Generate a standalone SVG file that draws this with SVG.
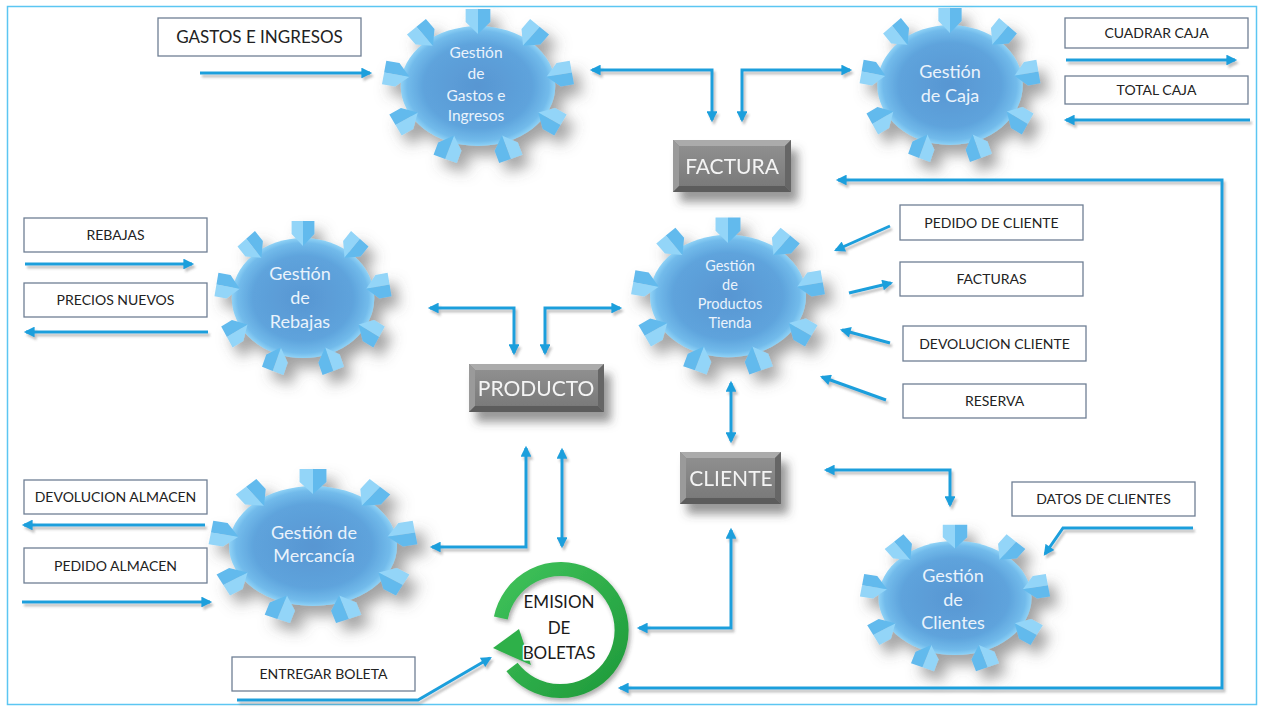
<svg xmlns="http://www.w3.org/2000/svg" xmlns:xlink="http://www.w3.org/1999/xlink" width="1264" height="711" viewBox="0 0 1264 711">
  <style>
    .lbl rect { fill: #ffffff; stroke: #6f7f94; stroke-width: 1.3; }
    .lbl text { font-family: Lato, "Liberation Sans", sans-serif; font-size: 14px; fill: #222222; text-anchor: middle; }
    .lbl text.big { font-size: 17px; }
    .gtxt { font-family: Lato, "Open Sans", sans-serif; fill: #eaf3fc; text-anchor: middle; }
    .btxt { font-family: Lato, "Open Sans", sans-serif; font-size: 21px; fill: #f4f4f4; text-anchor: middle; }
    .conn path { fill: none; stroke: #1e9fdc; stroke-width: 3; }
    .bol { font-family: Lato, "Open Sans", sans-serif; font-size: 17px; fill: #1a1a1a; text-anchor: middle; stroke: #ffffff; stroke-width: 3; paint-order: stroke; stroke-linejoin: round; }
  </style>
  <defs>
    <radialGradient id="gearBody" cx="50%" cy="50%" r="50%">
      <stop offset="0" stop-color="#5896d2"/>
      <stop offset="0.7" stop-color="#5ea3dc"/>
      <stop offset="0.92" stop-color="#72bbeb"/>
      <stop offset="1" stop-color="#8fd2f6"/>
    </radialGradient>
    <linearGradient id="grayFace" x1="0" y1="0" x2="0" y2="1">
      <stop offset="0" stop-color="#8f8f8f"/>
      <stop offset="1" stop-color="#7a7a7a"/>
    </linearGradient>
    <filter id="gearShadow" x="-30%" y="-30%" width="170%" height="170%">
      <feGaussianBlur in="SourceAlpha" stdDeviation="7"/>
      <feOffset dx="8" dy="10" result="b"/>
      <feFlood flood-color="#555555" flood-opacity="0.55"/>
      <feComposite in2="b" operator="in"/>
      <feMerge><feMergeNode/><feMergeNode in="SourceGraphic"/></feMerge>
    </filter>
    <filter id="boxShadow" x="-30%" y="-40%" width="170%" height="200%">
      <feGaussianBlur in="SourceAlpha" stdDeviation="5"/>
      <feOffset dx="7" dy="10" result="b"/>
      <feFlood flood-color="#444444" flood-opacity="0.55"/>
      <feComposite in2="b" operator="in"/>
      <feMerge><feMergeNode/><feMergeNode in="SourceGraphic"/></feMerge>
    </filter>
    <filter id="lineShadow" x="-5%" y="-5%" width="110%" height="110%">
      <feGaussianBlur in="SourceAlpha" stdDeviation="1.2"/>
      <feOffset dx="1.5" dy="2.5" result="b"/>
      <feFlood flood-color="#555555" flood-opacity="0.35"/>
      <feComposite in2="b" operator="in"/>
      <feMerge><feMergeNode/><feMergeNode in="SourceGraphic"/></feMerge>
    </filter>
    <filter id="ringShadow" x="-30%" y="-30%" width="160%" height="160%">
      <feGaussianBlur in="SourceAlpha" stdDeviation="2"/>
      <feOffset dx="2" dy="3" result="b"/>
      <feFlood flood-color="#333333" flood-opacity="0.4"/>
      <feComposite in2="b" operator="in"/>
      <feMerge><feMergeNode/><feMergeNode in="SourceGraphic"/></feMerge>
    </filter>
    <linearGradient id="ringGrad" x1="0" y1="0" x2="1" y2="1">
      <stop offset="0" stop-color="#3fc25a"/>
      <stop offset="1" stop-color="#1f9a3a"/>
    </linearGradient>
    <marker id="ah" viewBox="0 0 10 10" refX="8" refY="5" markerWidth="4" markerHeight="3.6" orient="auto-start-reverse" markerUnits="strokeWidth">
      <path d="M0,0 L10,5 L0,10 z" fill="#1e9fdc"/>
    </marker>
    <!-- one tooth, outward direction is -y, origin on the body rim -->
    <g id="tooth">
      <polygon points="-12,-18 0,-18 0,7 -12,-5" fill="#93d5f8"/>
      <polygon points="0,-18 12,-18 12,-5 0,7" fill="#62baed"/>
    </g>
    <!-- gear: elliptic body with nine teeth -->
    <g id="gear">
      <ellipse cx="0" cy="0" rx="75" ry="60" fill="url(#gearBody)"/>
      <use xlink:href="#tooth" transform="translate(0,-59) rotate(0)"/>
      <use xlink:href="#tooth" transform="translate(48.2,-45.5) rotate(40)"/>
      <use xlink:href="#tooth" transform="translate(73.4,-10.4) rotate(80)"/>
      <use xlink:href="#tooth" transform="translate(64.5,30) rotate(120)"/>
      <use xlink:href="#tooth" transform="translate(25.7,56) rotate(160)"/>
      <use xlink:href="#tooth" transform="translate(-25.7,56) rotate(200)"/>
      <use xlink:href="#tooth" transform="translate(-64.5,30) rotate(240)"/>
      <use xlink:href="#tooth" transform="translate(-73.4,-10.4) rotate(280)"/>
      <use xlink:href="#tooth" transform="translate(-48.2,-45.5) rotate(320)"/>
    </g>
  </defs>

  <rect x="0" y="0" width="1264" height="711" fill="#ffffff"/>
  <rect x="7.5" y="6.5" width="1249" height="698" fill="none" stroke="#5cc6f2" stroke-width="1.5"/>

  <!-- process gears -->
  <g id="gear-gastos">
    <use xlink:href="#gear" transform="translate(478,86) scale(1.03,1)" filter="url(#gearShadow)"/>
    <text class="gtxt" font-size="15.5"><tspan x="476" y="58">Gestión</tspan><tspan x="476" y="79">de</tspan><tspan x="476" y="101">Gastos e</tspan><tspan x="476" y="121">Ingresos</tspan></text>
  </g>
  <g id="gear-caja">
    <use xlink:href="#gear" transform="translate(950,85) scale(0.97,1)" filter="url(#gearShadow)"/>
    <text class="gtxt" font-size="18"><tspan x="950" y="78">Gestión</tspan><tspan x="950" y="102">de Caja</tspan></text>
  </g>
  <g id="gear-rebajas">
    <use xlink:href="#gear" transform="translate(303,298) scale(0.95,1)" filter="url(#gearShadow)"/>
    <text class="gtxt" font-size="18"><tspan x="300" y="280">Gestión</tspan><tspan x="300" y="304">de</tspan><tspan x="300" y="328">Rebajas</tspan></text>
  </g>
  <g id="gear-productos">
    <use xlink:href="#gear" transform="translate(728,296) scale(1.04,1.02)" filter="url(#gearShadow)"/>
    <text class="gtxt" font-size="14.5"><tspan x="730" y="271">Gestión</tspan><tspan x="730" y="290">de</tspan><tspan x="730" y="309">Productos</tspan><tspan x="730" y="328">Tienda</tspan></text>
  </g>
  <g id="gear-mercancia">
    <use xlink:href="#gear" transform="translate(313,546) scale(1.12,1)" filter="url(#gearShadow)"/>
    <text class="gtxt" font-size="18"><tspan x="314" y="539">Gestión de</tspan><tspan x="314" y="562">Mercancía</tspan></text>
  </g>
  <g id="gear-clientes">
    <use xlink:href="#gear" transform="translate(955,598) scale(1.02,0.95)" filter="url(#gearShadow)"/>
    <text class="gtxt" font-size="18"><tspan x="953" y="582">Gestión</tspan><tspan x="953" y="606">de</tspan><tspan x="953" y="629">Clientes</tspan></text>
  </g>

  <!-- data stores: bevelled grey blocks -->
  <g id="store-factura" filter="url(#boxShadow)">
    <rect x="673" y="140" width="118" height="52" fill="#808080"/>
    <polygon points="673,140 791,140 785,146 679,146" fill="#ababab"/>
    <polygon points="673,140 679,146 679,186 673,192" fill="#9a9a9a"/>
    <polygon points="791,140 791,192 785,186 785,146" fill="#666666"/>
    <polygon points="673,192 679,186 785,186 791,192" fill="#5c5c5c"/>
    <rect x="679" y="146" width="106" height="40" fill="url(#grayFace)"/>
    <text class="btxt" x="732" y="174">FACTURA</text>
  </g>
  <g id="store-producto" filter="url(#boxShadow)">
    <rect x="469" y="364" width="135" height="48" fill="#808080"/>
    <polygon points="469,364 604,364 598,370 475,370" fill="#ababab"/>
    <polygon points="469,364 475,370 475,406 469,412" fill="#9a9a9a"/>
    <polygon points="604,364 604,412 598,406 598,370" fill="#666666"/>
    <polygon points="469,412 475,406 598,406 604,412" fill="#5c5c5c"/>
    <rect x="475" y="370" width="123" height="36" fill="url(#grayFace)"/>
    <text class="btxt" x="536" y="396" font-size="20">PRODUCTO</text>
  </g>
  <g id="store-cliente" filter="url(#boxShadow)">
    <rect x="680" y="452" width="101" height="52" fill="#808080"/>
    <polygon points="680,452 781,452 775,458 686,458" fill="#ababab"/>
    <polygon points="680,452 686,458 686,498 680,504" fill="#9a9a9a"/>
    <polygon points="781,452 781,504 775,498 775,458" fill="#666666"/>
    <polygon points="680,504 686,498 775,498 781,504" fill="#5c5c5c"/>
    <rect x="686" y="458" width="89" height="40" fill="url(#grayFace)"/>
    <text class="btxt" x="731" y="486">CLIENTE</text>
  </g>

  <!-- boleta issuing cycle -->
  <g id="emision-boletas">
    <g filter="url(#ringShadow)">
      <path d="M500.8,618 A61,61 0 1 1 512,667" fill="none" stroke="url(#ringGrad)" stroke-width="14"/>
      <polygon points="493,648 519,629 531,665" fill="#2fb04a"/>
    </g>
    <text class="bol"><tspan x="559" y="608">EMISION</tspan><tspan x="559" y="634">DE</tspan><tspan x="559" y="659">BOLETAS</tspan></text>
  </g>

  <!-- external flows -->
  <g id="lbl-gastos" class="lbl"><rect x="158" y="18" width="203" height="38"/><text class="big" x="259.5" y="43">GASTOS E INGRESOS</text></g>
  <g id="lbl-cuadrar" class="lbl"><rect x="1065" y="18" width="183" height="30"/><text x="1156.5" y="38">CUADRAR CAJA</text></g>
  <g id="lbl-total" class="lbl"><rect x="1065" y="76" width="183" height="28"/><text x="1156.5" y="95">TOTAL CAJA</text></g>
  <g id="lbl-rebajas" class="lbl"><rect x="24" y="218" width="183" height="34"/><text x="115.5" y="240">REBAJAS</text></g>
  <g id="lbl-precios" class="lbl"><rect x="24" y="283" width="183" height="34"/><text x="115.5" y="305">PRECIOS NUEVOS</text></g>
  <g id="lbl-pedido-cliente" class="lbl"><rect x="900" y="205" width="183" height="35"/><text x="991.5" y="228">PEDIDO DE CLIENTE</text></g>
  <g id="lbl-facturas" class="lbl"><rect x="900" y="262" width="183" height="34"/><text x="991.5" y="284">FACTURAS</text></g>
  <g id="lbl-devolucion-cliente" class="lbl"><rect x="903" y="326" width="183" height="35"/><text x="994.5" y="349">DEVOLUCION CLIENTE</text></g>
  <g id="lbl-reserva" class="lbl"><rect x="903" y="384" width="183" height="34"/><text x="994.5" y="406">RESERVA</text></g>
  <g id="lbl-devolucion-almacen" class="lbl"><rect x="24" y="480" width="183" height="34"/><text x="115.5" y="502">DEVOLUCION ALMACEN</text></g>
  <g id="lbl-pedido-almacen" class="lbl"><rect x="24" y="548" width="183" height="35"/><text x="115.5" y="571">PEDIDO ALMACEN</text></g>
  <g id="lbl-datos-clientes" class="lbl"><rect x="1012" y="482" width="183" height="34"/><text x="1103.5" y="504">DATOS DE CLIENTES</text></g>
  <g id="lbl-entregar" class="lbl"><rect x="232" y="657" width="183" height="34"/><text x="323.5" y="679">ENTREGAR BOLETA</text></g>

  <!-- connectors -->
  <g id="connectors" class="conn" filter="url(#lineShadow)">
    <path d="M200,73 H370" marker-end="url(#ah)"/>
    <path d="M592,70 H712 V120" marker-start="url(#ah)" marker-end="url(#ah)"/>
    <path d="M850,70 H742 V120" marker-start="url(#ah)" marker-end="url(#ah)"/>
    <path d="M1066,60 H1235" marker-end="url(#ah)"/>
    <path d="M1250,120 H1066" marker-end="url(#ah)"/>
    <path d="M838,180 H1222 V688 H620" marker-start="url(#ah)" marker-end="url(#ah)"/>
    <path d="M25,264 H192" marker-end="url(#ah)"/>
    <path d="M208,332 H26" marker-end="url(#ah)"/>
    <path d="M430,308 H514 V353" marker-start="url(#ah)" marker-end="url(#ah)"/>
    <path d="M620,308 H545 V353" marker-start="url(#ah)" marker-end="url(#ah)"/>
    <path d="M890,226 L836,250" marker-end="url(#ah)"/>
    <path d="M849,293 L891,283" marker-end="url(#ah)"/>
    <path d="M890,343 L842,330" marker-end="url(#ah)"/>
    <path d="M886,400 L822,377" marker-end="url(#ah)"/>
    <path d="M731,383 V441" marker-start="url(#ah)" marker-end="url(#ah)"/>
    <path d="M826,470 H950 V505" marker-start="url(#ah)" marker-end="url(#ah)"/>
    <path d="M1193,528 H1063 L1045,554" marker-end="url(#ah)"/>
    <path d="M205,525 H24" marker-end="url(#ah)"/>
    <path d="M22,602 H210" marker-end="url(#ah)"/>
    <path d="M526,448 V547 H432" marker-start="url(#ah)" marker-end="url(#ah)"/>
    <path d="M562,450 V546" marker-start="url(#ah)" marker-end="url(#ah)"/>
    <path d="M639,628 H731 V530" marker-start="url(#ah)" marker-end="url(#ah)"/>
    <path d="M237,700 H418 L490,658" marker-end="url(#ah)"/>
  </g>
</svg>
